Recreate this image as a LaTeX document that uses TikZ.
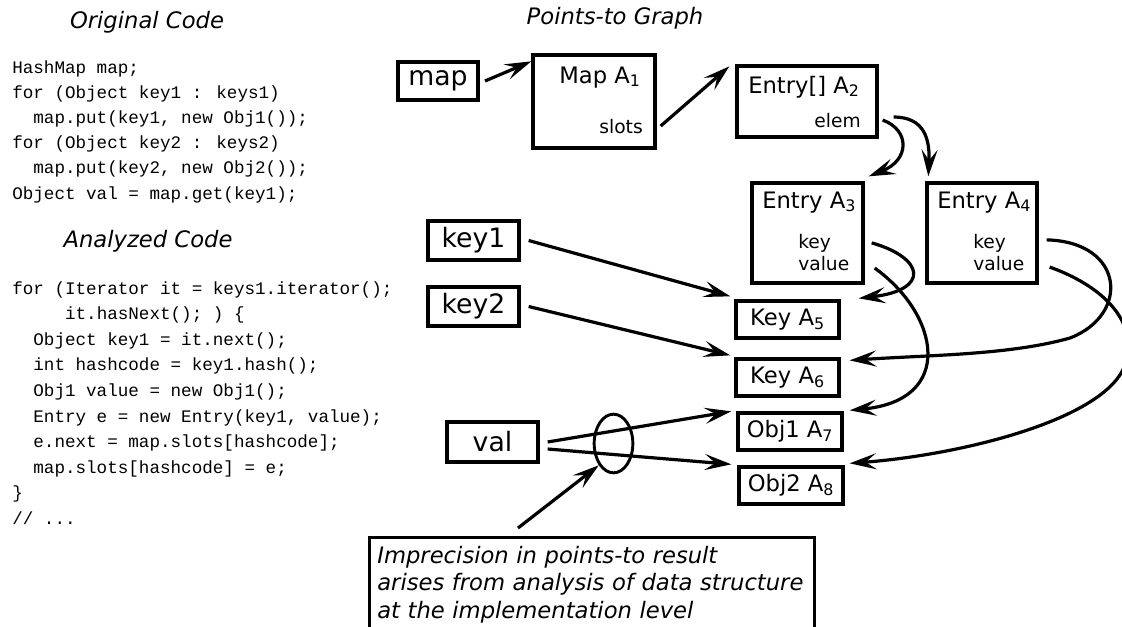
\documentclass[tikz,border=0pt]{standalone}
\usepackage{fontspec}
\setmainfont{DejaVu Sans}
\newfontfamily\codefont{Liberation Mono}
\usetikzlibrary{arrows.meta,calc,shapes.geometric}
\newcommand\etcdots{...}

\begin{document}
\begin{tikzpicture}[x=0.75pt,y=-0.75pt,
  ptr/.style={line width=2.4pt, -{Stealth[length=20pt,width=12pt,inset=8pt]}},
  varbox/.style={draw, line width=2.5pt, inner sep=0pt, font=\fontsize{20}{24}\selectfont},
  objbox/.style={draw, line width=2.5pt, inner sep=0pt, font=\fontsize{17}{20}\selectfont},
  title/.style={inner sep=0pt, font=\fontsize{17}{20}\selectfont},
  field/.style={inner sep=0pt, font=\fontsize{14}{17}\selectfont},
  heading/.style={font=\fontsize{17}{20}\selectfont\itshape},
  code/.style={inner sep=0pt, font=\fontsize{13.2}{16}\codefont}]
\useasboundingbox (0,0) rectangle (1122,626);

% code listings
\node[heading] (hdorig) at (147,22) {Original Code};
\foreach \codeline [count=\i from 0] in {{HashMap map;}, {for (Object key1 : keys1)},
    {\ \ map.put(key1, new Obj1());}, {for (Object key2 : keys2)},
    {\ \ map.put(key2, new Obj2());}, {Object val = map.get(key1);}}
  \node[code, anchor=base west] (orig\i) at (12,73+25.2*\i) {\codeline};

\node[heading] (hdana) at (148,241) {Analyzed Code};
\foreach \codeline [count=\i from 0] in {{for (Iterator it = keys1.iterator();},
    {\ \ \ \ \ it.hasNext(); ) \{}, {\ \ Object key1 = it.next();},
    {\ \ int hashcode = key1.hash();}, {\ \ Obj1 value = new Obj1();},
    {\ \ Entry e = new Entry(key1, value);}, {\ \ e.next = map.slots[hashcode];},
    {\ \ map.slots[hashcode] = e;}, {\}}, {// \etcdots}}
  \node[code, anchor=base west] (ana\i) at (12,294+25.6*\i) {\codeline};

% points-to graph
\node[heading] (hdpts) at (615,18) {Points-to Graph};

\node[varbox, minimum width=60pt, minimum height=28.5pt] (mapv) at (438,81) {map};
\node[varbox, minimum width=68.25pt, minimum height=29.25pt] (key1) at (473.5,240.5) {key1};
\node[varbox, minimum width=68.25pt, minimum height=29.25pt] (key2) at (473.5,306.5) {key2};
\node[varbox, minimum width=68.25pt, minimum height=30pt] (val) at (492.5,442) {val\hspace{15pt}};

\node[objbox, minimum width=91.5pt, minimum height=69.75pt] (mapA) at (594,101.5) {};
\node[title, anchor=base east] (mapAt) at (641,83) {Map A\textsubscript{1}};
\node[field, anchor=base east] (slotsA1) at (643,133) {slots};

\node[objbox, minimum width=105pt, minimum height=53.25pt] (entA2) at (807,101.5) {};
\node[title, anchor=base east] (entA2t) at (860,93) {Entry[] A\textsubscript{2}};
\node[field, anchor=base east] (elemA2) at (861,127) {elem};

\node[objbox, minimum width=83.25pt, minimum height=75pt] (entA3) at (807.5,233) {};
\node[title, anchor=base west] (entA3t) at (762,208) {Entry A\textsubscript{3}};
\node[field, anchor=base west] (keyA3) at (798,248) {key};
\node[field, anchor=base west] (valueA3) at (798,270) {value};

\node[objbox, minimum width=82.5pt, minimum height=75pt] (entA4) at (982,233) {};
\node[title, anchor=base west] (entA4t) at (937,208) {Entry A\textsubscript{4}};
\node[field, anchor=base west] (keyA4) at (973,248) {key};
\node[field, anchor=base west] (valueA4) at (973,270) {value};

\node[objbox, minimum width=77.25pt, minimum height=27.75pt] (keyA5) at (787.5,319.5) {Key A\textsubscript{5}};
\node[objbox, minimum width=77.25pt, minimum height=27.75pt] (keyA6) at (787.5,377.5) {Key A\textsubscript{6}};
\node[objbox, minimum width=78pt, minimum height=27.75pt] (objA7) at (790,431.5) {Obj1 A\textsubscript{7}};
\node[objbox, minimum width=78pt, minimum height=27.75pt] (objA8) at (791,485.5) {Obj2 A\textsubscript{8}};

\node[draw, ellipse, line width=2.2pt, inner sep=0pt, minimum width=29pt, minimum height=44pt] (amb) at (613.5,443.5) {};

\node[draw, line width=2pt, anchor=north west, align=left, text width=322pt, inner xsep=6pt, inner ysep=6.5pt,
  text depth=80pt, font=\fontsize{17}{20.8}\selectfont\itshape] (note) at (368,536)
  {Imprecision in points-to result\\arises from analysis of data structure\\at the implementation level};

% pointers
\draw[ptr] ([xshift=4pt]mapv.east) -- ([yshift=-6pt]mapA.north west);
\draw[ptr] ($(mapA.east |- slotsA1)+(4,0)$) -- ($(entA2.north west)+(-6,2)$);
\draw[ptr] ($(entA2.east |- elemA2)+(4,0)$) .. controls (910,130) and (910,160) .. ($(entA3.north east)+(4,-5)$);
\draw[ptr] ($(entA2.east |- elemA2)+(15,-3)$) .. controls (925,117) and (930,140) .. ($(entA4.north west)+(3,-5)$);
\draw[ptr] ([xshift=6pt]key1.east) -- ($(keyA5.north west)+(-4,-3)$);
\draw[ptr] ([xshift=6pt]key2.east) -- ($(keyA6.north west)+(-4,-2)$);
\draw[ptr] ([xshift=6pt]val.east) -- ($(objA7.north west)+(-5,0)$);
\draw[ptr] ($(val.east)+(8,7)$) -- ($(objA8.north west)+(-6,-1)$);
\draw[ptr] ($(entA3.east |- keyA3)+(7,0)$) .. controls (925,258) and (930,290) .. ($(keyA5.north east)+(18,-1)$);
\draw[ptr] ($(entA3.east |- valueA3)+(10,5)$) .. controls (940,315) and (955,400) .. ($(objA7.north east)+(6,-1)$);
\draw[ptr] ($(entA4.east |- keyA4)+(8,-3)$) .. controls (1125,242) and (1130,315) .. (1070,338)
  .. controls (1010,355) and (930,355) .. ($(keyA6.north east)+(9,3)$);
\draw[ptr] ($(entA4.east |- valueA4)+(11,4)$) .. controls (1100,285) and (1140,320) .. (1125,365)
  .. controls (1105,420) and (960,455) .. ($(objA8.north east)+(5,-2)$);
\draw[ptr] ($(note.north west)+(150,-8)$) -- (amb.south west);
\end{tikzpicture}
\end{document}
